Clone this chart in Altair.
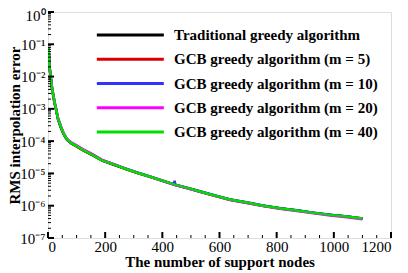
import altair as alt
import pandas as pd

# ---- data ----
series_names = [
    "Traditional greedy algorithm",
    "GCB greedy algorithm (m = 5)",
    "GCB greedy algorithm (m = 10)",
    "GCB greedy algorithm (m = 20)",
    "GCB greedy algorithm (m = 40)",
]
series_colors = ["#000000", "#dd0000", "#3333ff", "#ff00ff", "#00dd00"]

nodes = [2, 4, 6, 8, 10, 14, 18, 23, 28, 35, 45, 55, 66, 80, 100, 125, 157, 190,
         230, 270, 310, 357, 400, 444, 490, 532, 585, 637, 700, 752, 810, 871,
         930, 987, 1045, 1100]

err_trad = [7.5e-2, 3.0e-2, 1.7e-2, 1.2e-2, 8.5e-3, 4.3e-3, 2.7e-3, 1.5e-3, 9.5e-4,
            4.8e-4, 2.6e-4, 1.6e-4, 1.1e-4, 8.6e-5, 6.9e-5, 5.1e-5, 3.6e-5, 2.5e-5,
            1.85e-5, 1.38e-5, 1.05e-5, 7.8e-6, 5.9e-6, 4.45e-6, 3.45e-6, 2.72e-6,
            2.02e-6, 1.54e-6, 1.22e-6, 1.0e-6, 8.3e-7, 7.1e-7, 6.0e-7, 5.2e-7,
            4.6e-7, 3.95e-7]
err_m5 = [7.7e-2, 3.1e-2, 1.75e-2, 1.25e-2, 8.7e-3, 4.4e-3, 2.75e-3, 1.55e-3, 9.8e-4,
          4.9e-4, 2.7e-4, 1.65e-4, 1.12e-4, 8.7e-5, 6.9e-5, 5.1e-5, 3.7e-5, 2.5e-5,
          1.9e-5, 1.4e-5, 1.06e-5, 7.9e-6, 6.0e-6, 4.5e-6, 3.5e-6, 2.75e-6,
          2.04e-6, 1.55e-6, 1.23e-6, 1.0e-6, 8.3e-7, 7.1e-7, 6.0e-7, 5.2e-7,
          4.6e-7, 4.0e-7]
nodes_m10 = [2, 4, 6, 8, 10, 14, 18, 23, 28, 35, 45, 55, 66, 80, 100, 125, 157, 190,
             230, 270, 310, 357, 400, 441, 443, 445, 490, 532, 585, 637, 700, 752,
             810, 871, 930, 987, 1045, 1100]
err_m10 = [7.8e-2, 3.2e-2, 1.8e-2, 1.3e-2, 8.9e-3, 4.5e-3, 2.8e-3, 1.6e-3, 1.0e-3,
           5.0e-4, 2.8e-4, 1.7e-4, 1.15e-4, 8.9e-5, 7.2e-5, 5.3e-5, 3.8e-5, 2.55e-5,
           1.95e-5, 1.43e-5, 1.1e-5, 8.1e-6, 6.1e-6, 4.6e-6, 6.0e-6, 4.5e-6, 3.55e-6,
           2.8e-6, 2.07e-6, 1.57e-6, 1.25e-6, 1.02e-6, 8.4e-7, 7.2e-7, 6.1e-7,
           5.3e-7, 4.65e-7, 4.05e-7]
err_m20 = [7.9e-2, 3.2e-2, 1.8e-2, 1.3e-2, 9.0e-3, 4.6e-3, 2.9e-3, 1.65e-3, 1.05e-3,
           5.2e-4, 2.9e-4, 1.75e-4, 1.2e-4, 9.3e-5, 7.4e-5, 5.5e-5, 3.9e-5, 2.6e-5,
           1.95e-5, 1.43e-5, 1.08e-5, 7.9e-6, 5.9e-6, 4.4e-6, 3.4e-6, 2.68e-6,
           1.98e-6, 1.5e-6, 1.19e-6, 9.7e-7, 8.0e-7, 6.8e-7, 5.8e-7, 5.0e-7,
           4.4e-7, 3.8e-7]
err_m40 = [7.9e-2, 3.2e-2, 1.8e-2, 1.3e-2, 8.9e-3, 4.5e-3, 2.8e-3, 1.6e-3, 1.0e-3,
           5.0e-4, 2.8e-4, 1.7e-4, 1.15e-4, 8.8e-5, 7.0e-5, 5.2e-5, 3.7e-5, 2.5e-5,
           1.9e-5, 1.4e-5, 1.07e-5, 7.9e-6, 6.0e-6, 4.5e-6, 3.5e-6, 2.75e-6,
           2.04e-6, 1.55e-6, 1.23e-6, 1.0e-6, 8.3e-7, 7.1e-7, 6.0e-7, 5.2e-7,
           4.6e-7, 4.0e-7]

x_ticks_major = [0, 200, 400, 600, 800, 1000, 1200]
x_ticks_minor = [50, 100, 150, 250, 300, 350, 450, 500, 550, 650, 700, 750,
                 850, 900, 950, 1050, 1100, 1150]
y_ticks_major = [1, 1e-1, 1e-2, 1e-3, 1e-4, 1e-5, 1e-6, 1e-7]
y_tick_labels = ["10⁰", "10⁻¹", "10⁻²", "10⁻³", "10⁻⁴", "10⁻⁵", "10⁻⁶", "10⁻⁷"]
y_ticks_minor = [m * 10.0 ** e for e in range(-7, 0) for m in range(2, 10)]

# ---- build tables ----
rows = []
for name, xs, ys in [
    (series_names[0], nodes, err_trad),
    (series_names[1], nodes, err_m5),
    (series_names[2], nodes_m10, err_m10),
    (series_names[3], nodes, err_m20),
    (series_names[4], nodes, err_m40),
]:
    for i, (a, b) in enumerate(zip(xs, ys)):
        rows.append({"series": name, "n": a, "err": b, "i": i})
df = pd.DataFrame(rows)

W, H = 343, 226
FONT = "Liberation Serif"

xscale = alt.Scale(domain=[0, 1200], nice=False, zero=False)
yscale = alt.Scale(type="log", domain=[1e-7, 1], nice=False)

label_expr = "[" + ",".join("'%s'" % s for s in y_tick_labels) + "][round(-log(datum.value)/LN10)]"

lines = alt.Chart(df).mark_line(strokeWidth=2.5, clip=True).encode(
    x=alt.X("n:Q", scale=xscale,
            axis=alt.Axis(values=x_ticks_major, format="d", title="The number of support nodes",
                          ticks=False, domain=False, grid=False, labelPadding=1,
                          labelFont=FONT, labelFontSize=15, labelColor="black",
                          titleFont=FONT, titleFontSize=15, titleFontWeight="bold",
                          titleColor="black", titlePadding=0)),
    y=alt.Y("err:Q", scale=yscale,
            axis=alt.Axis(values=y_ticks_major, labelExpr=label_expr,
                          title="RMS interpolation error",
                          ticks=False, domain=False, grid=False, labelPadding=3,
                          labelOffset={"condition": {"test": "datum.value >= 0.5", "value": 3},
                                       "value": 0},
                          labelFont=FONT, labelFontSize=15, labelColor="black",
                          titleFont=FONT, titleFontSize=15, titleFontWeight="bold",
                          titleColor="black", titleX=-34, titleY=H / 2,
                          titleBaseline="middle")),
    color=alt.Color("series:N",
                    scale=alt.Scale(domain=series_names, range=series_colors),
                    legend=alt.Legend(title=None, orient="none", legendX=47, legendY=10,
                                      symbolType="M-1,0H5", symbolSize=499,
                                      symbolStrokeWidth=3, labelOffset=53,
                                      rowPadding=3.25, labelFont=FONT, labelFontSize=15,
                                      labelFontWeight="bold", labelColor="black",
                                      labelLimit=400)),
    order=alt.Order("i:Q"),
)

ymaj = alt.Chart(pd.DataFrame({"v": y_ticks_major})).mark_rule(color="black", strokeWidth=2).encode(
    y=alt.Y("v:Q", scale=yscale), x=alt.value(0), x2=alt.value(6))
ymin = alt.Chart(pd.DataFrame({"v": y_ticks_minor})).mark_rule(color="black", strokeWidth=1).encode(
    y=alt.Y("v:Q", scale=yscale), x=alt.value(0), x2=alt.value(3))
xmaj = alt.Chart(pd.DataFrame({"v": x_ticks_major})).mark_rule(color="black", strokeWidth=2).encode(
    x=alt.X("v:Q", scale=xscale), y=alt.value(H), y2=alt.value(H - 6))
xmin = alt.Chart(pd.DataFrame({"v": x_ticks_minor})).mark_rule(color="black", strokeWidth=1).encode(
    x=alt.X("v:Q", scale=xscale), y=alt.value(H), y2=alt.value(H - 3))

chart = alt.layer(lines, ymaj, ymin, xmaj, xmin).properties(
    width=W, height=H,
    autosize=alt.AutoSizeParams(type="none"),
    padding={"left": 40, "top": 4, "right": 9, "bottom": 35},
).configure_view(stroke="black", strokeWidth=2.5).configure(background="white")

chart.save("out.html", embed_options={"renderer": "svg", "actions": False})
